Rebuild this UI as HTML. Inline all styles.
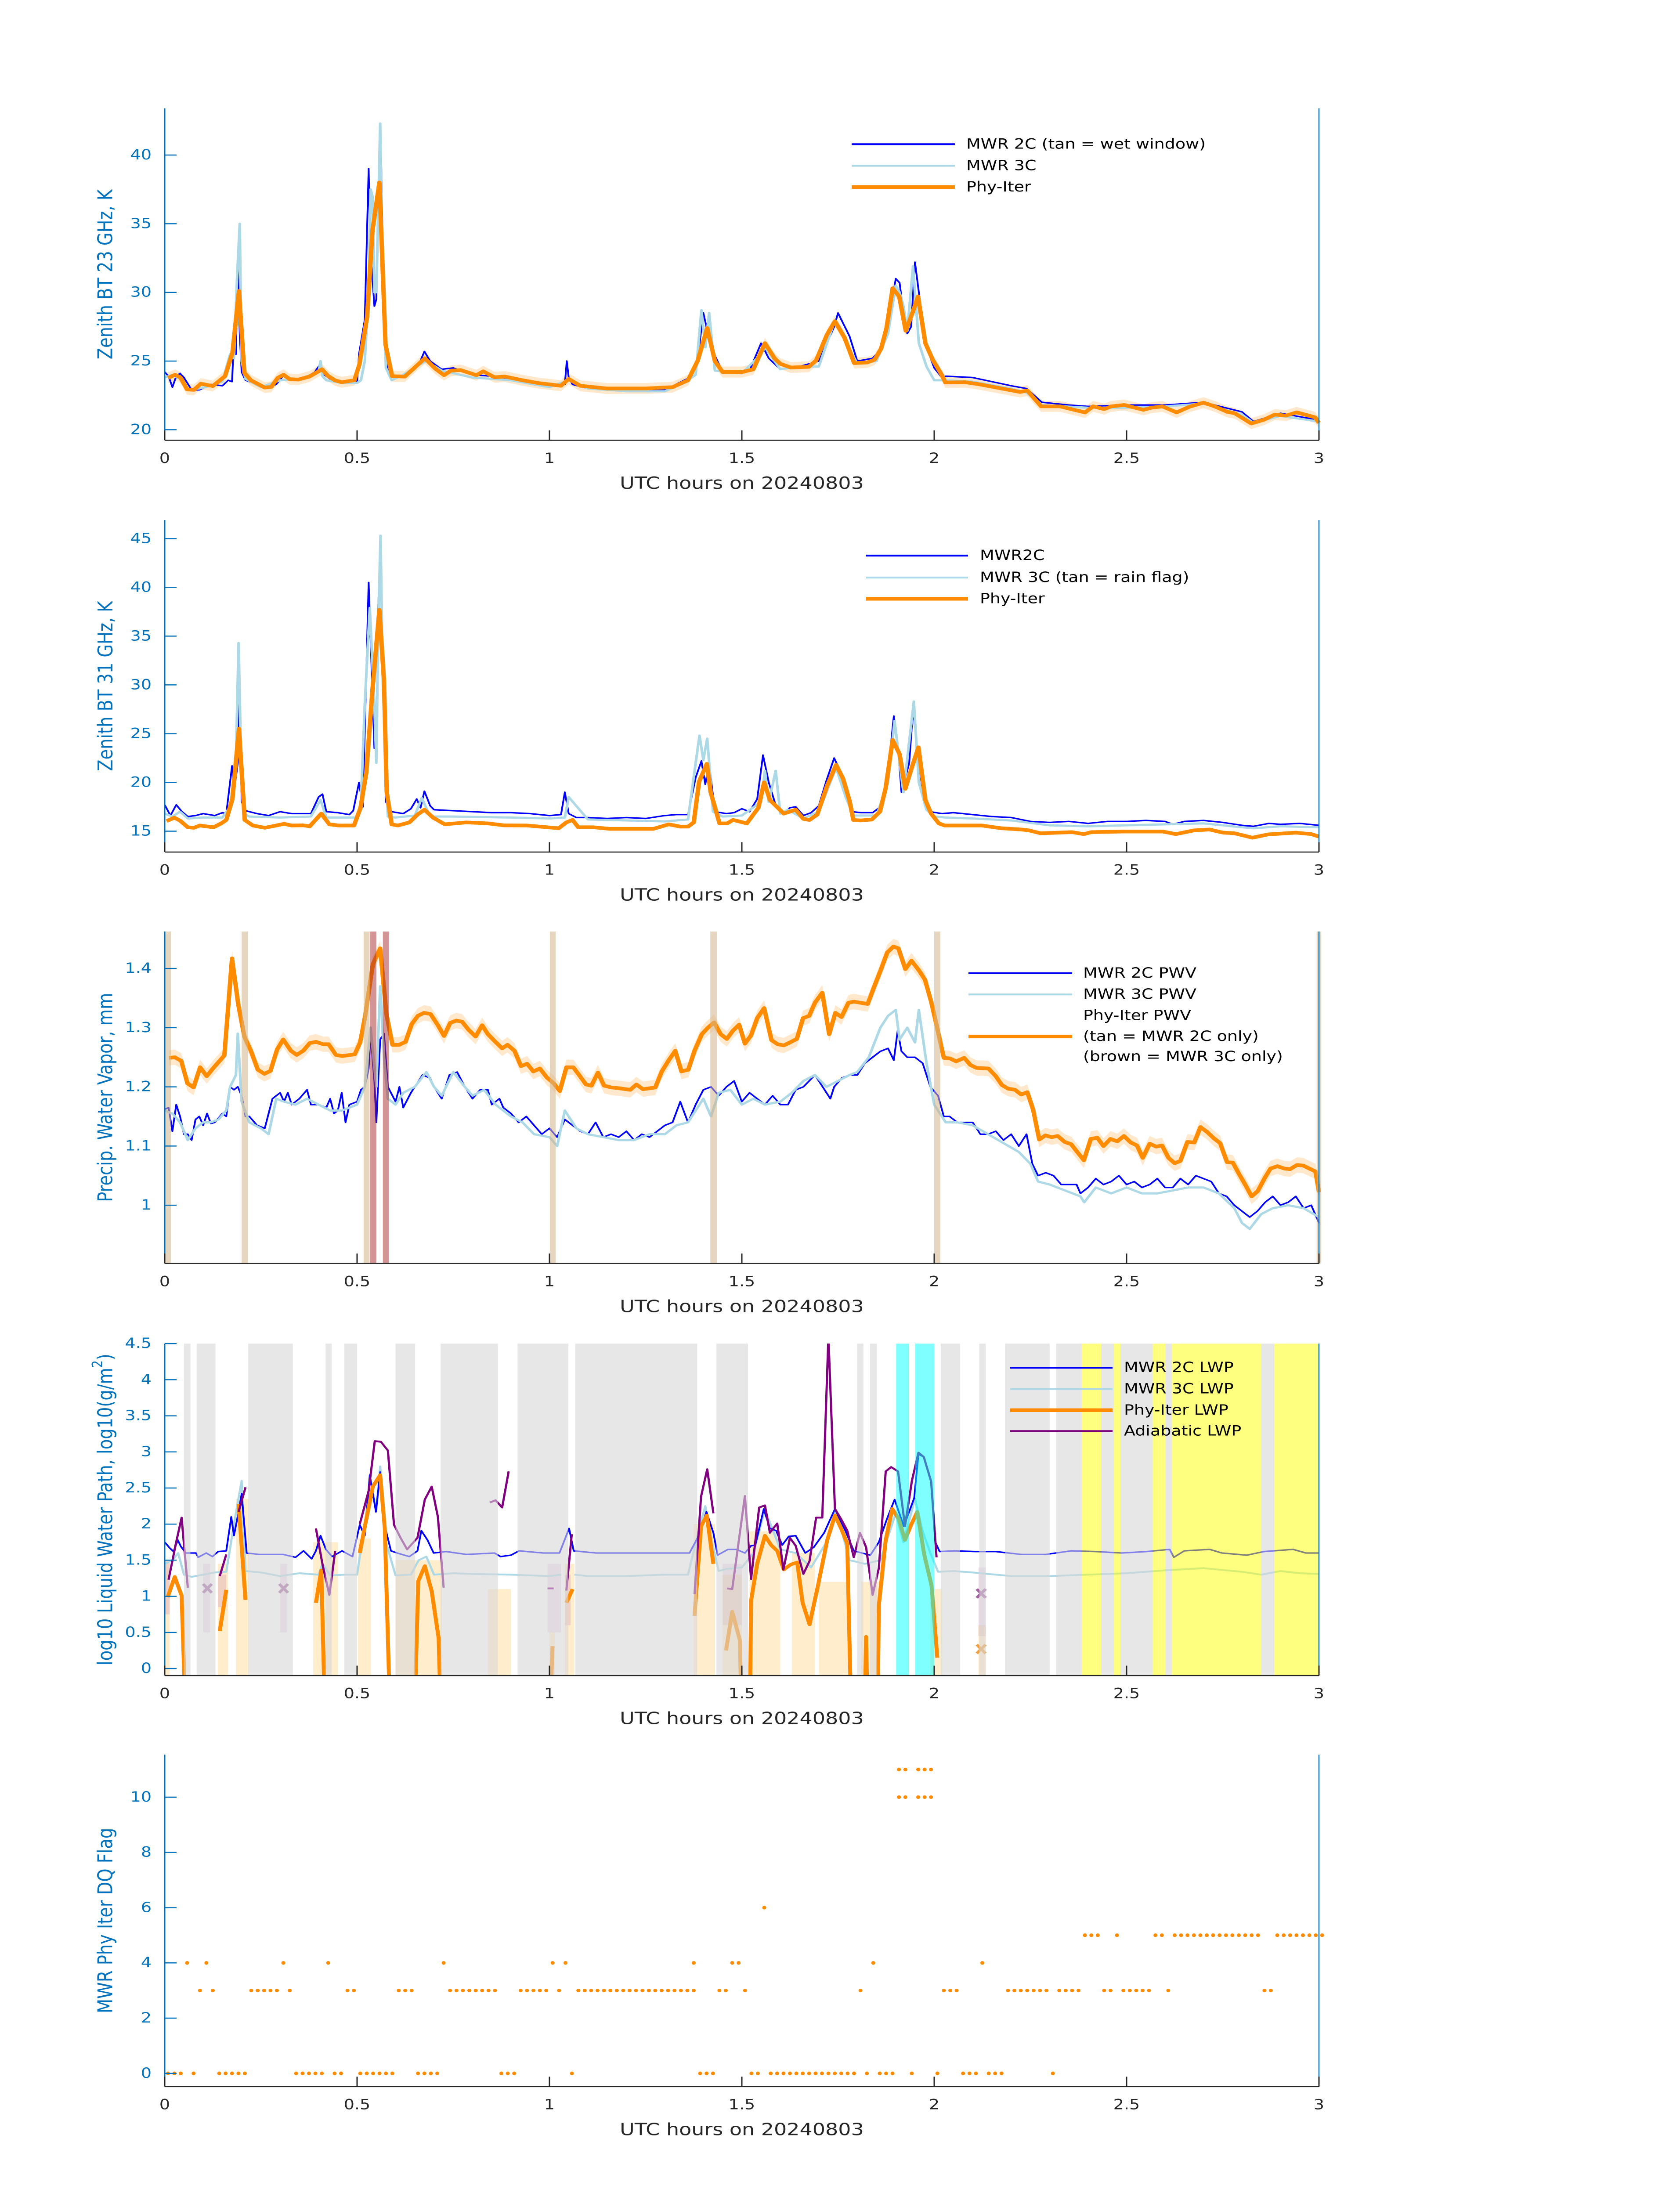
<!DOCTYPE html>
<html><head><meta charset="utf-8"><title>MWR comparison 20240803</title>
<style>
html,body{margin:0;padding:0;background:#fff;width:100%;height:100%;overflow:hidden;}
svg{display:block;position:absolute;left:0;top:0;width:100vw;height:100vh;font-family:"DejaVu Sans","Liberation Sans",sans-serif;}
</style></head>
<body>
<svg id="chart" xmlns="http://www.w3.org/2000/svg" viewBox="0 0 3825 6000" preserveAspectRatio="none"></svg>
<script>
// ---------- Panel 1: 23 GHz BT ----------
const p1OrangeT=[0.009,0.027,0.041,0.058,0.076,0.094,0.125,0.157,0.176,0.193,0.207,0.224,0.26,0.277,0.294,0.309,0.325,0.347,0.376,0.409,0.424,0.442,0.46,0.493,0.506,0.526,0.54,0.558,0.574,0.591,0.624,0.646,0.676,0.704,0.726,0.744,0.769,0.81,0.828,0.857,0.884,0.93,0.97,1.0,1.03,1.05,1.08,1.15,1.25,1.32,1.36,1.385,1.41,1.43,1.45,1.5,1.53,1.56,1.585,1.6,1.627,1.674,1.693,1.721,1.742,1.767,1.792,1.826,1.845,1.862,1.876,1.892,1.909,1.926,1.944,1.958,1.977,1.996,2.02,2.029,2.081,2.119,2.195,2.223,2.242,2.278,2.327,2.356,2.392,2.413,2.442,2.46,2.494,2.544,2.564,2.593,2.63,2.663,2.7,2.729,2.762,2.781,2.824,2.857,2.885,2.914,2.942,2.99,3.0];
const p1OrangeV=[23.78,24.0,23.8,22.94,22.9,23.35,23.18,23.9,25.6,30.1,24.15,23.6,23.07,23.12,23.78,24.0,23.68,23.65,23.87,24.4,23.93,23.6,23.46,23.6,24.75,28.2,34.5,38.0,26.2,23.9,23.87,24.43,25.2,24.43,23.97,24.3,24.34,23.97,24.25,23.82,23.87,23.6,23.4,23.3,23.2,23.7,23.2,23.0,23.0,23.1,23.6,25.0,27.4,25.0,24.2,24.2,24.4,26.3,25.2,24.8,24.53,24.58,25.04,26.9,27.9,26.7,24.85,24.9,25.1,25.9,27.4,30.3,29.7,27.2,28.55,29.7,26.3,25.1,23.97,23.44,23.46,23.3,22.9,22.75,22.85,21.7,21.7,21.5,21.26,21.7,21.5,21.7,21.8,21.45,21.6,21.7,21.26,21.67,21.97,21.7,21.3,21.2,20.45,20.73,21.1,21.03,21.26,20.9,20.5];
const p1BlueT=[0,0.01,0.02,0.03,0.04,0.05,0.07,0.09,0.12,0.15,0.165,0.175,0.18,0.185,0.19,0.195,0.2,0.21,0.23,0.26,0.29,0.31,0.33,0.36,0.39,0.405,0.415,0.43,0.46,0.49,0.5,0.505,0.52,0.53,0.535,0.545,0.55,0.555,0.562,0.57,0.58,0.6,0.63,0.66,0.675,0.69,0.72,0.75,0.8,0.85,0.9,0.95,1.0,1.04,1.045,1.05,1.06,1.1,1.2,1.3,1.35,1.38,1.4,1.42,1.45,1.5,1.52,1.55,1.57,1.6,1.65,1.7,1.74,1.75,1.78,1.8,1.84,1.86,1.88,1.9,1.91,1.92,1.93,1.94,1.95,1.96,1.98,2.0,2.02,2.03,2.1,2.2,2.24,2.28,2.35,2.4,2.5,2.6,2.7,2.8,2.83,2.9,3.0];
const p1BlueV=[24.2,23.9,23.1,23.9,24.1,23.8,22.9,22.9,23.3,23.2,23.6,23.5,26.6,25.5,32.0,27,24.2,23.6,23.4,23.0,23.3,24.0,23.7,23.7,24.2,24.8,24.0,23.7,23.4,23.5,23.4,25.5,28,39.0,33,29.0,29.5,37,40.5,28,24.2,23.8,24.0,24.7,25.7,25.0,24.4,24.5,24.0,23.9,23.7,23.4,23.2,23.3,25.0,23.8,23.3,23.0,22.9,22.9,23.6,24,28.5,26,24.2,24.3,24.3,26.3,25.2,24.4,24.6,25.0,27.5,28.5,26.8,25.0,25.2,25.8,27.5,31.0,30.7,28.5,27.0,27.5,32.2,30,26,24.5,23.8,23.9,23.8,23.2,23.0,22.0,21.8,21.7,21.8,21.8,22.0,21.3,20.6,21.2,20.7];
const p1LbT=[0,0.02,0.04,0.06,0.09,0.12,0.15,0.17,0.18,0.188,0.195,0.2,0.21,0.25,0.3,0.35,0.4,0.405,0.41,0.42,0.46,0.5,0.51,0.52,0.53,0.535,0.54,0.545,0.55,0.555,0.56,0.565,0.575,0.59,0.62,0.66,0.68,0.72,0.8,0.9,1.0,1.05,1.1,1.2,1.3,1.35,1.38,1.395,1.405,1.415,1.43,1.5,1.55,1.56,1.6,1.65,1.7,1.74,1.76,1.8,1.85,1.88,1.9,1.91,1.92,1.93,1.945,1.95,1.96,1.98,2.0,2.03,2.1,2.2,2.24,2.28,2.4,2.5,2.6,2.7,2.8,2.83,2.9,3.0];
const p1LbV=[23.8,24.0,23.7,22.9,23.0,23.2,23.5,25.5,25.2,31,35,25,23.7,23.1,23.6,23.7,24.2,25.0,23.9,23.6,23.4,23.4,23.6,25,30,37.5,37.0,30,30,36,42.3,33,24.5,23.6,24.0,24.7,25.0,24.3,23.8,23.6,23.1,23.6,23.0,22.8,22.8,23.4,24,28.7,26,28.5,24.3,24.1,25.5,26.0,24.4,24.6,24.6,27.8,27.0,24.8,25.0,27,30.5,30,29,27.2,31.9,30,26.3,24.6,23.6,23.6,23.5,23.0,22.7,21.8,21.6,21.6,21.7,21.9,21.1,20.5,21.0,20.6];
const p1Ticks=[20,25,30,35,40];

// ---------- Panel 2: 31 GHz BT ----------
const p2OrangeT=[0.005,0.025,0.04,0.06,0.076,0.091,0.127,0.147,0.16,0.176,0.193,0.208,0.229,0.26,0.29,0.31,0.33,0.36,0.377,0.407,0.428,0.453,0.492,0.509,0.524,0.54,0.558,0.57,0.577,0.59,0.606,0.636,0.657,0.675,0.698,0.728,0.784,0.84,0.881,0.942,1.024,1.044,1.06,1.075,1.115,1.156,1.27,1.31,1.34,1.36,1.375,1.389,1.409,1.419,1.442,1.462,1.477,1.513,1.543,1.558,1.573,1.609,1.64,1.66,1.676,1.696,1.722,1.745,1.763,1.78,1.79,1.808,1.838,1.859,1.874,1.892,1.91,1.925,1.94,1.959,1.977,1.992,2.012,2.027,2.083,2.124,2.175,2.226,2.246,2.277,2.358,2.389,2.409,2.49,2.594,2.628,2.675,2.715,2.751,2.781,2.827,2.868,2.94,2.98,3.0];
const p2OrangeV=[16.04,16.38,16.08,15.4,15.35,15.58,15.4,15.8,16.15,18.3,25.5,16.15,15.58,15.35,15.58,15.75,15.58,15.6,15.5,16.8,15.7,15.58,15.58,17.4,21.0,29.5,37.7,30.4,19.0,15.7,15.58,15.9,16.7,17.2,16.38,15.7,15.9,15.8,15.6,15.58,15.3,15.9,16.15,15.4,15.4,15.24,15.24,15.7,15.47,15.47,15.9,20.1,21.9,19.0,15.8,15.8,16.15,15.8,17.4,20.0,18.2,16.8,17.2,16.26,16.15,16.7,19.7,21.8,20.4,18.1,16.15,16.1,16.2,17.0,19.45,24.35,22.9,19.35,21.3,23.6,18.2,16.8,15.8,15.58,15.58,15.58,15.3,15.17,15.08,14.78,14.9,14.7,14.9,14.96,14.96,14.7,15.08,15.17,14.85,14.78,14.33,14.67,14.85,14.7,14.44];
const p2BlueT=[0,0.015,0.03,0.045,0.06,0.08,0.1,0.13,0.15,0.16,0.175,0.18,0.19,0.195,0.2,0.21,0.24,0.27,0.3,0.33,0.36,0.38,0.4,0.41,0.42,0.45,0.48,0.49,0.505,0.515,0.53,0.545,0.55,0.555,0.56,0.565,0.575,0.59,0.62,0.64,0.655,0.665,0.675,0.69,0.7,0.75,0.8,0.85,0.9,0.95,1.0,1.03,1.04,1.05,1.07,1.1,1.15,1.2,1.25,1.3,1.33,1.36,1.38,1.395,1.405,1.415,1.43,1.46,1.48,1.5,1.52,1.54,1.555,1.57,1.59,1.61,1.625,1.64,1.66,1.68,1.7,1.72,1.74,1.76,1.785,1.81,1.84,1.86,1.88,1.895,1.905,1.915,1.935,1.945,1.96,1.975,1.99,2.02,2.05,2.1,2.15,2.2,2.25,2.3,2.35,2.4,2.45,2.5,2.55,2.6,2.62,2.65,2.7,2.75,2.8,2.83,2.87,2.9,2.95,3.0];
const p2BlueV=[17.7,16.6,17.7,17.0,16.5,16.6,16.8,16.6,16.9,16.8,21.7,19,22,30,18,17.1,16.8,16.6,17.0,16.8,16.8,16.8,18.5,18.8,17.0,16.9,16.7,17.1,20.0,17.5,40.5,23.5,25,38,44,35,18,17.0,16.8,17.3,18.3,17.4,19.1,17.6,17.2,17.1,17.0,16.9,16.9,16.8,16.6,16.7,19.0,16.8,16.4,16.4,16.3,16.4,16.3,16.6,16.7,16.7,20.5,22.2,19.8,22,17.0,16.8,16.9,17.3,17.0,18.3,22.8,20,17.4,16.9,17.4,17.5,16.6,16.9,17.6,20.2,22.5,20.8,17.0,16.9,16.9,17.5,21.0,26.8,24,19,22,27.5,22,17.7,17.0,16.8,16.9,16.7,16.5,16.4,16.0,15.9,16.0,15.8,16.0,16.0,16.1,16.0,15.7,16.0,16.1,15.9,15.6,15.5,15.8,15.7,15.8,15.6];
const p2LbT=[0,0.02,0.04,0.06,0.1,0.15,0.17,0.185,0.192,0.197,0.205,0.22,0.3,0.38,0.405,0.42,0.5,0.51,0.52,0.533,0.545,0.55,0.555,0.561,0.567,0.58,0.6,0.65,0.668,0.69,0.75,0.9,1.0,1.04,1.05,1.1,1.3,1.36,1.38,1.39,1.4,1.41,1.425,1.45,1.5,1.55,1.56,1.57,1.588,1.6,1.62,1.66,1.7,1.745,1.77,1.79,1.85,1.88,1.897,1.91,1.92,1.947,1.96,1.98,2.0,2.03,2.1,2.2,2.3,2.4,2.5,2.6,2.7,2.8,2.83,2.9,3.0];
const p2LbV=[16.8,16.5,17.0,16.3,16.4,16.4,17.5,22,34.3,25,16.8,16.5,16.4,16.5,18.2,16.4,16.4,18,28,37.9,28,22,36,45.3,30,16.5,16.4,16.6,18.4,16.5,16.5,16.4,16.3,16.4,18.5,16.2,16.0,16.2,22,24.8,22.3,24.5,17,16.5,16.6,18,21.2,18,21.2,16.8,17.2,16.3,17.0,21.5,18.5,16.6,16.6,20,26.3,22,19,28.3,20,17.2,16.5,16.4,16.3,16.1,15.6,15.5,15.6,15.7,15.8,15.4,15.3,15.5,15.4];
const p2Ticks=[15,20,25,30,35,40,45];

// ---------- Panel 3: PWV ----------
const p3OrangeT=[0.011,0.026,0.043,0.059,0.075,0.092,0.109,0.128,0.155,0.175,0.191,0.207,0.224,0.242,0.259,0.275,0.292,0.308,0.328,0.343,0.36,0.377,0.393,0.412,0.426,0.445,0.461,0.494,0.508,0.521,0.541,0.56,0.576,0.592,0.609,0.626,0.642,0.658,0.674,0.691,0.71,0.726,0.742,0.758,0.773,0.789,0.808,0.825,0.84,0.858,0.877,0.891,0.909,0.926,0.942,0.958,0.975,0.993,1.011,1.027,1.044,1.062,1.077,1.095,1.109,1.126,1.142,1.161,1.177,1.21,1.226,1.243,1.275,1.292,1.31,1.327,1.343,1.361,1.377,1.396,1.412,1.428,1.445,1.461,1.477,1.493,1.508,1.524,1.54,1.558,1.577,1.593,1.609,1.625,1.643,1.659,1.675,1.69,1.709,1.727,1.743,1.759,1.777,1.791,1.827,1.844,1.862,1.878,1.894,1.907,1.925,1.941,1.96,1.976,1.992,2.009,2.025,2.041,2.057,2.078,2.094,2.11,2.141,2.16,2.176,2.192,2.21,2.226,2.242,2.257,2.273,2.289,2.305,2.321,2.339,2.356,2.373,2.389,2.407,2.424,2.44,2.458,2.476,2.493,2.511,2.527,2.542,2.56,2.577,2.592,2.609,2.625,2.64,2.658,2.676,2.692,2.709,2.727,2.743,2.761,2.776,2.793,2.809,2.825,2.841,2.859,2.874,2.892,2.91,2.925,2.943,2.959,2.975,2.991,3.0];
const p3OrangeV=[1.249,1.25,1.244,1.206,1.199,1.233,1.218,1.233,1.253,1.417,1.34,1.285,1.261,1.229,1.222,1.227,1.263,1.28,1.261,1.254,1.261,1.274,1.276,1.272,1.272,1.254,1.252,1.255,1.275,1.32,1.407,1.434,1.324,1.271,1.271,1.276,1.306,1.32,1.325,1.323,1.304,1.286,1.308,1.312,1.31,1.297,1.285,1.304,1.289,1.277,1.265,1.271,1.261,1.235,1.239,1.226,1.231,1.216,1.206,1.193,1.233,1.233,1.22,1.204,1.202,1.224,1.202,1.199,1.198,1.195,1.204,1.196,1.199,1.226,1.245,1.261,1.226,1.229,1.261,1.289,1.3,1.309,1.289,1.281,1.295,1.305,1.273,1.287,1.316,1.333,1.279,1.272,1.27,1.275,1.281,1.316,1.32,1.342,1.359,1.289,1.325,1.318,1.342,1.344,1.34,1.369,1.399,1.427,1.437,1.434,1.399,1.413,1.397,1.381,1.344,1.296,1.249,1.248,1.243,1.249,1.237,1.232,1.231,1.218,1.203,1.197,1.195,1.187,1.191,1.162,1.111,1.118,1.115,1.117,1.107,1.103,1.089,1.076,1.112,1.114,1.1,1.112,1.108,1.117,1.106,1.101,1.08,1.104,1.099,1.101,1.08,1.071,1.075,1.107,1.106,1.132,1.124,1.113,1.105,1.073,1.072,1.052,1.034,1.015,1.024,1.046,1.062,1.066,1.062,1.061,1.068,1.067,1.062,1.057,1.022];
const p3BlueT=[0,0.01,0.02,0.03,0.04,0.05,0.06,0.07,0.08,0.09,0.1,0.11,0.12,0.13,0.15,0.16,0.17,0.18,0.19,0.2,0.21,0.22,0.24,0.26,0.28,0.3,0.31,0.32,0.33,0.35,0.37,0.38,0.4,0.42,0.43,0.44,0.45,0.46,0.47,0.48,0.5,0.51,0.52,0.53,0.535,0.545,0.55,0.56,0.57,0.58,0.6,0.61,0.62,0.64,0.66,0.67,0.69,0.7,0.72,0.74,0.76,0.78,0.8,0.82,0.84,0.85,0.87,0.88,0.9,0.92,0.94,0.96,0.98,1.0,1.02,1.04,1.06,1.08,1.1,1.12,1.14,1.16,1.18,1.2,1.22,1.24,1.26,1.28,1.3,1.32,1.34,1.36,1.38,1.4,1.42,1.44,1.46,1.48,1.5,1.52,1.54,1.56,1.58,1.6,1.62,1.64,1.66,1.69,1.71,1.73,1.74,1.76,1.78,1.8,1.82,1.84,1.86,1.88,1.895,1.905,1.915,1.93,1.95,1.97,1.99,2.01,2.025,2.04,2.06,2.08,2.1,2.12,2.14,2.16,2.18,2.2,2.22,2.24,2.255,2.27,2.29,2.31,2.33,2.35,2.37,2.38,2.4,2.42,2.44,2.46,2.48,2.5,2.52,2.54,2.56,2.58,2.6,2.62,2.64,2.66,2.68,2.7,2.72,2.74,2.76,2.78,2.8,2.82,2.84,2.86,2.88,2.9,2.92,2.94,2.96,2.98,3.0];
const p3BlueV=[1.162,1.165,1.125,1.17,1.15,1.12,1.12,1.11,1.145,1.15,1.135,1.155,1.138,1.14,1.155,1.15,1.2,1.195,1.2,1.185,1.15,1.15,1.135,1.13,1.18,1.19,1.175,1.19,1.17,1.18,1.195,1.17,1.17,1.165,1.18,1.155,1.16,1.19,1.14,1.17,1.175,1.195,1.2,1.23,1.29,1.21,1.14,1.28,1.29,1.2,1.175,1.2,1.165,1.19,1.21,1.22,1.215,1.2,1.18,1.22,1.225,1.2,1.18,1.195,1.195,1.17,1.18,1.165,1.155,1.14,1.15,1.135,1.12,1.13,1.115,1.145,1.135,1.125,1.12,1.14,1.115,1.12,1.115,1.125,1.11,1.12,1.115,1.125,1.135,1.14,1.175,1.14,1.17,1.195,1.2,1.185,1.2,1.21,1.175,1.19,1.18,1.17,1.185,1.17,1.17,1.195,1.2,1.22,1.2,1.18,1.2,1.215,1.22,1.22,1.24,1.25,1.26,1.265,1.245,1.295,1.26,1.25,1.25,1.24,1.2,1.185,1.15,1.15,1.14,1.14,1.14,1.12,1.12,1.125,1.11,1.12,1.1,1.12,1.07,1.05,1.055,1.05,1.035,1.035,1.035,1.02,1.03,1.045,1.035,1.04,1.05,1.035,1.04,1.03,1.035,1.045,1.03,1.03,1.045,1.035,1.05,1.045,1.04,1.02,1.015,1.0,0.99,0.98,0.99,1.005,1.015,1.0,1.005,1.015,0.995,1.0,0.97];
const p3LbT=[0,0.02,0.04,0.06,0.08,0.1,0.12,0.14,0.16,0.17,0.185,0.19,0.2,0.22,0.25,0.27,0.29,0.31,0.34,0.37,0.4,0.43,0.46,0.48,0.5,0.52,0.535,0.55,0.56,0.57,0.58,0.6,0.62,0.65,0.68,0.7,0.72,0.75,0.78,0.8,0.83,0.86,0.9,0.93,0.96,1.0,1.02,1.04,1.07,1.1,1.14,1.18,1.22,1.26,1.3,1.33,1.36,1.4,1.42,1.44,1.47,1.5,1.53,1.56,1.6,1.63,1.66,1.69,1.72,1.75,1.78,1.8,1.83,1.86,1.88,1.9,1.91,1.93,1.95,1.96,1.98,2.0,2.03,2.06,2.1,2.14,2.18,2.22,2.25,2.27,2.3,2.34,2.38,2.39,2.42,2.46,2.5,2.54,2.58,2.62,2.66,2.7,2.74,2.78,2.8,2.82,2.85,2.88,2.92,2.96,3.0];
const p3LbV=[1.16,1.155,1.14,1.11,1.13,1.14,1.14,1.145,1.16,1.2,1.22,1.29,1.175,1.14,1.13,1.12,1.18,1.175,1.17,1.18,1.17,1.16,1.16,1.165,1.17,1.2,1.3,1.2,1.37,1.25,1.18,1.17,1.19,1.2,1.225,1.2,1.185,1.225,1.2,1.185,1.195,1.17,1.15,1.14,1.12,1.115,1.1,1.16,1.13,1.12,1.115,1.11,1.11,1.12,1.12,1.135,1.14,1.18,1.15,1.19,1.195,1.17,1.18,1.17,1.175,1.19,1.21,1.22,1.2,1.21,1.22,1.225,1.25,1.3,1.32,1.33,1.28,1.3,1.275,1.33,1.24,1.17,1.14,1.14,1.135,1.12,1.105,1.09,1.07,1.04,1.035,1.025,1.015,1.005,1.03,1.02,1.03,1.02,1.02,1.025,1.03,1.03,1.02,0.995,0.97,0.96,0.985,0.995,1.0,0.995,0.98];
const p3TanBands=[[0.0,0.016],[0.2,0.216],[0.517,0.532],[1.001,1.016],[1.418,1.435],[2.0,2.016],[2.994,3.006]];
const p3BrownBands=[[0.533,0.55],[0.567,0.583]];
const p3Ticks=[1,1.1,1.2,1.3,1.4];

// ---------- Panel 4: LWP ----------
const p4BlueT=[0,0.013,0.023,0.034,0.042,0.055,0.081,0.087,0.108,0.124,0.139,0.16,0.173,0.18,0.192,0.2,0.213,0.245,0.308,0.34,0.361,0.382,0.393,0.405,0.419,0.435,0.461,0.488,0.507,0.52,0.533,0.549,0.56,0.575,0.588,0.604,0.636,0.657,0.667,0.683,0.699,0.731,0.784,0.857,0.873,0.9,0.921,0.984,1.026,1.051,1.063,1.121,1.174,1.28,1.364,1.385,1.408,1.426,1.437,1.464,1.486,1.508,1.524,1.535,1.557,1.573,1.589,1.605,1.622,1.64,1.665,1.687,1.714,1.742,1.769,1.791,1.812,1.834,1.856,1.877,1.897,1.921,1.948,1.959,1.973,1.992,2.003,2.014,2.052,2.106,2.16,2.226,2.29,2.356,2.42,2.487,2.552,2.612,2.623,2.65,2.716,2.748,2.813,2.857,2.933,2.966,3.0];
const p4BlueV=[1.75,1.67,1.62,1.78,1.69,1.6,1.6,1.54,1.6,1.55,1.62,1.63,2.1,1.84,2.17,2.42,1.6,1.58,1.58,1.54,1.63,1.52,1.63,1.84,1.65,1.55,1.63,1.55,1.99,1.84,2.68,2.17,2.72,1.91,1.63,1.6,1.55,1.63,1.91,1.78,1.6,1.62,1.58,1.6,1.55,1.57,1.63,1.6,1.6,1.94,1.63,1.6,1.6,1.6,1.6,1.81,2.17,1.88,1.57,1.65,1.65,1.6,1.7,1.71,2.21,1.94,1.91,1.71,1.83,1.84,1.6,1.68,1.88,2.21,1.91,1.63,1.6,1.57,1.75,2.07,2.34,1.97,2.36,2.97,2.93,2.59,1.75,1.62,1.63,1.62,1.62,1.58,1.58,1.63,1.62,1.6,1.62,1.65,1.54,1.63,1.65,1.6,1.57,1.62,1.65,1.6,1.6];
const p4LbT=[0,0.02,0.035,0.05,0.07,0.1,0.13,0.16,0.18,0.2,0.21,0.25,0.3,0.35,0.4,0.41,0.43,0.47,0.5,0.52,0.535,0.55,0.56,0.575,0.6,0.64,0.66,0.68,0.7,0.75,0.8,0.9,1.0,1.03,1.06,1.065,1.1,1.2,1.3,1.36,1.385,1.405,1.42,1.44,1.46,1.5,1.53,1.56,1.6,1.64,1.68,1.72,1.745,1.78,1.82,1.86,1.9,1.92,1.95,1.97,1.99,2.01,2.05,2.1,2.2,2.3,2.4,2.5,2.6,2.7,2.72,2.8,2.85,2.9,2.95,3.0];
const p4LbV=[1.45,1.5,1.6,1.3,1.27,1.3,1.33,1.34,2.0,2.6,1.35,1.33,1.28,1.32,1.3,1.45,1.29,1.3,1.3,2.0,2.6,2.2,2.8,1.75,1.29,1.3,1.5,1.55,1.3,1.32,1.31,1.3,1.28,1.3,null,1.3,1.28,1.28,1.3,1.3,1.85,2.25,1.8,1.35,1.38,1.4,1.6,2.2,1.65,1.6,1.4,1.75,2.2,1.5,1.45,1.5,2.15,1.75,2.35,1.9,1.6,1.34,1.35,1.33,1.28,1.28,1.3,1.32,1.36,1.39,1.38,1.34,1.3,1.35,1.32,1.31];
const p4OrangeT=[0.008,0.026,0.044,0.051,0.1,0.143,0.16,0.18,0.192,0.21,0.3,0.393,0.407,0.414,0.45,0.507,0.52,0.541,0.56,0.572,0.583,0.6,0.652,0.659,0.676,0.694,0.712,0.715,0.8,1.005,1.008,1.02,1.044,1.06,1.2,1.377,1.394,1.409,1.426,1.44,1.459,1.475,1.495,1.497,1.51,1.522,1.524,1.54,1.56,1.576,1.592,1.609,1.627,1.644,1.658,1.676,1.698,1.722,1.742,1.758,1.774,1.782,1.8,1.821,1.823,1.825,1.84,1.854,1.856,1.874,1.891,1.908,1.924,1.94,1.956,1.974,1.993,2.008];
const p4OrangeV=[0.99,1.27,1.01,-0.13,null,0.52,1.09,null,2.28,0.95,null,0.91,1.36,-0.13,null,1.6,1.96,2.52,2.68,1.94,-0.13,null,-0.13,1.21,1.42,1.07,0.42,-0.13,null,-0.13,0.31,null,0.91,1.1,null,0.73,1.97,2.12,1.45,null,0.25,0.79,0.39,-0.13,null,-0.13,0.94,1.45,1.84,1.71,1.63,1.37,1.44,1.47,0.91,0.61,1.15,1.78,2.12,1.94,1.73,-0.13,null,-0.13,0.44,-0.13,null,-0.13,0.87,1.78,2.21,2.07,1.78,1.99,2.17,1.58,1.15,0.15];
const p4PurpleT=[0.01,0.029,0.044,0.06,0.1,0.143,0.16,0.18,0.192,0.21,0.3,0.393,0.411,0.428,0.443,0.47,0.507,0.53,0.546,0.562,0.58,0.596,0.613,0.63,0.657,0.676,0.694,0.71,0.725,0.8,0.845,0.86,0.877,0.894,0.95,0.995,1.011,1.03,1.044,1.058,1.2,1.377,1.394,1.41,1.426,1.44,1.462,1.475,1.508,1.524,1.545,1.56,1.573,1.592,1.608,1.625,1.64,1.66,1.676,1.693,1.709,1.725,1.742,1.758,1.774,1.791,1.807,1.823,1.84,1.856,1.874,1.888,1.906,1.924,1.942,1.959,1.973,1.992,2.006];
const p4PurpleV=[1.23,1.73,2.09,1.12,null,1.28,1.58,null,2.17,2.51,null,1.94,1.42,1.02,1.63,null,2.0,2.46,3.15,3.14,3.02,1.99,1.81,1.65,1.81,2.34,2.52,2.1,1.12,null,2.3,2.33,2.23,2.73,null,1.11,1.11,null,1.08,1.86,null,1.03,2.38,2.76,2.15,null,1.11,1.10,2.39,1.24,2.23,2.26,1.88,2.01,1.37,1.81,1.7,1.31,1.49,2.09,2.09,4.6,2.21,2.07,1.91,1.54,1.88,1.68,1.02,1.39,2.73,2.79,2.73,1.97,2.6,2.99,2.93,2.59,1.54];
const p4GrayBands=[[0.05,0.067],[0.083,0.132],[0.217,0.333],[0.418,0.434],[0.467,0.5],[0.6,0.651],[0.717,0.866],[0.917,1.049],[1.067,1.384],[1.434,1.516],[1.8,1.816],[1.833,1.851],[2.017,2.067],[2.117,2.134],[2.184,2.3],[2.317,2.384],[2.434,2.467],[2.484,2.568],[2.601,2.618],[2.85,2.884]];
const p4YellowBands=[[2.384,2.434],[2.467,2.484],[2.568,2.601],[2.618,2.85],[2.884,3.0]];
const p4CyanBands=[[1.901,1.934],[1.951,2.0]];
const p4PeachRects=[[0.0,0.013,-0.1,1.5],[0.138,0.165,-0.1,1.45],[0.185,0.218,-0.1,2.35],[0.386,0.45,-0.1,1.75],[0.502,0.536,-0.1,1.8],[0.60,0.72,-0.1,1.5],[0.84,0.9,-0.1,1.1],[1.0,1.015,-0.1,0.5],[1.04,1.065,-0.1,1.45],[1.375,1.43,-0.1,2.0],[1.45,1.5,-0.1,1.3],[1.52,1.6,-0.1,1.9],[1.63,1.69,-0.1,1.6],[1.7,1.78,-0.1,1.2],[1.81,1.86,-0.1,1.2],[1.99,2.02,-0.1,1.1],[2.115,2.134,-0.1,0.6]];
const p4MauveRects=[[0.0,0.013,0.75,1.5],[0.1,0.118,0.5,1.45],[0.138,0.16,0.85,1.3],[0.3,0.318,0.5,1.45],[0.995,1.03,0.5,1.45],[1.04,1.055,0.6,1.3],[1.45,1.5,0.6,1.45],[2.115,2.134,0.45,1.4]];
const p4PurpleX=[[0.111,1.11],[0.309,1.11],[2.122,1.04]];
const p4OrangeX=[[2.122,0.27]];
const p4Ticks=[0,0.5,1,1.5,2,2.5,3,3.5,4,4.5];

// ---------- Panel 5: DQ flag (minute index of sample) ----------
const dq0Minutes=[0,1,2,4,8,9,10,11,12,20,21,22,23,24,26,27,30,31,32,33,34,35,39,40,41,42,52,53,54,63,83,84,85,91,92,94,95,96,97,98,99,100,101,102,103,104,105,106,107,109,111,112,113,116,120,124,125,126,128,129,130,138];
const dq3Minutes=[5,7,13,14,15,16,17,19,28,29,36,37,38,44,45,46,47,48,49,50,51,55,56,57,58,59,61,64,65,66,67,68,69,70,71,72,73,74,75,76,77,78,79,80,81,82,86,87,90,108,121,122,123,131,132,133,134,135,136,137,139,140,141,142,146,147,149,150,151,152,153,156,171,172];
const dq4Minutes=[3,6,18,25,43,60,62,82,88,89,110,127];
const dq5Minutes=[143,144,145,148,154,155,157,158,159,160,161,162,163,164,165,166,167,168,169,170,173,174,175,176,177,178,179,180];
const dq6Minutes=[93];
const dq10Minutes=[114,115,117,118,119];
const dq11Minutes=[114,115,117,118,119];
const p5Ticks=[0,2,4,6,8,10];

const xTicks=[0,0.5,1,1.5,2,2.5,3];
const xTickLabels=['0','0.5','1','1.5','2','2.5','3'];

// ---------- layout ----------
const NS='http://www.w3.org/2000/svg';
const svg=document.getElementById('chart');
const L=375,R=3003,H=907;
const P=[{top:296,ymin:19.23,ymax:43.4},{top:1421,ymin:12.86,ymax:46.9},{top:2545,ymin:0.9017,ymax:1.4625},{top:3671,ymin:-0.097,ymax:4.5},{top:4794,ymin:-0.477,ymax:11.54}];
function X(t){return L+t/3*(R-L);}
function Y(p,v){return P[p].top+(P[p].ymax-v)/(P[p].ymax-P[p].ymin)*H;}
function mk(tag,attrs,parent){const e=document.createElementNS(NS,tag);for(const k in attrs)e.setAttribute(k,attrs[k]);(parent||svg).appendChild(e);return e;}
function pathD(p,ts,vs){let d='',pen=false;for(let i=0;i<ts.length;i++){const v=vs[i];if(v===null||v===undefined){pen=false;continue;}d+=(pen?'L':'M')+X(ts[i]).toFixed(1)+','+Y(p,v).toFixed(1);pen=true;}return d;}
function bandD(p,ts,vs,w){let up='',dn=[];for(let i=0;i<ts.length;i++){up+=(i?'L':'M')+X(ts[i]).toFixed(1)+','+Y(p,vs[i]+w).toFixed(1);dn.push('L'+X(ts[i]).toFixed(1)+','+Y(p,vs[i]-w).toFixed(1));}return up+dn.reverse().join('')+'Z';}

const defs=mk('defs',{});
for(let p=0;p<5;p++){const cp=mk('clipPath',{id:'clip'+p},defs);mk('rect',{x:L,y:P[p].top,width:R-L+6,height:H},cp);}

function axes(p,ticks,ylabel,name){
  const g=mk('g',{});
  
  
  const bot=P[p].top+H;
  const yl=mk('line',{x1:L,y1:P[p].top,x2:L,y2:bot,stroke:'#0072BD','stroke-width':3},g);
  
  
  const rl=mk('line',{x1:R,y1:P[p].top,x2:R,y2:bot,stroke:'#0072BD','stroke-width':2.5},g);
  
  
  const xl=mk('line',{x1:L,y1:bot,x2:R,y2:bot,stroke:'#262626','stroke-width':3},g);
  
  
  ticks.forEach(v=>{const y=Y(p,v);
    const t=mk('line',{x1:L,y1:y,x2:L+27,y2:y,stroke:'#0072BD','stroke-width':3},g);
    
    
    const tx=mk('text',{x:345,y:y,'text-anchor':'end','dominant-baseline':'central','font-size':38,fill:'#0072BD'},g);
    
    
    tx.textContent=String(v);});
  xTicks.forEach((v,i)=>{const x=X(v);
    const t=mk('line',{x1:x,y1:bot,x2:x,y2:bot-27,stroke:'#262626','stroke-width':3},g);
    
    
    const tx=mk('text',{x:x,y:bot+50,'text-anchor':'middle','dominant-baseline':'central','font-size':38,fill:'#262626'},g);
    
    
    tx.textContent=xTickLabels[i];});
  const xt=mk('text',{x:(L+R)/2,y:bot+117,'text-anchor':'middle','dominant-baseline':'central','font-size':46,fill:'#262626'},g);
  
  
  xt.textContent='UTC hours on 20240803';
  const cy=P[p].top+H/2;
  const yt=mk('text',{x:240,y:cy,'text-anchor':'middle','dominant-baseline':'central','font-size':46,fill:'#0072BD',transform:'rotate(-90 240 '+cy+')'},g);
  
  
  if(Array.isArray(ylabel)){yt.appendChild(document.createTextNode(ylabel[0]));const s=mk('tspan',{'baseline-shift':'super','font-size':32},yt);s.textContent=ylabel[1];yt.appendChild(document.createTextNode(ylabel[2]));}
  else yt.textContent=ylabel;
}
function series(p,ts,vs,color,w,name,parent){
  const e=mk('path',{d:pathD(p,ts,vs),fill:'none',stroke:color,'stroke-width':w,'stroke-linejoin':'round','stroke-linecap':'butt'},parent);
  
  
  return e;
}
function band(p,ts,vs,w,name,parent){
  const e=mk('path',{d:bandD(p,ts,vs,w),fill:'rgba(255,140,0,0.2)',stroke:'none'},parent);
  
  
}
function vband(p,t0,t1,fill,name,parent,lo,hi){
  const y0=lo===undefined?P[p].top:Y(p,hi),y1=lo===undefined?P[p].top+H:Y(p,lo);
  const e=mk('rect',{x:X(t0),y:y0,width:X(t1)-X(t0),height:y1-y0,fill:fill},parent);
  
  
}
function legend(rows,x1,x2,tx,name){
  const g=mk('g',{});
  
  
  rows.forEach(r=>{
    if(r.color){const l=mk('line',{x1:x1,y1:r.ly,x2:x2,y2:r.ly,stroke:r.color,'stroke-width':r.w},g);
      
      }
    const t=mk('text',{x:tx,y:r.y,'dominant-baseline':'central','font-size':38,fill:'#000'},g);
    
    
    t.textContent=r.text;});
}

// ---- Panel 1 ----
let g=mk('g',{'clip-path':'url(#clip0)'});


band(0,p1OrangeT,p1OrangeV,0.4,'bt23-phyiter-uncertainty',g);
series(0,p1BlueT,p1BlueV,'#0000FF',4,'bt23-mwr2c-line',g);
series(0,p1LbT,p1LbV,'#ADD8E6',6,'bt23-mwr3c-line',g);
series(0,p1OrangeT,p1OrangeV,'#FF8C00',10,'bt23-phyiter-line',g);
axes(0,p1Ticks,'Zenith BT 23 GHz, K','bt23');
legend([{text:'MWR 2C (tan = wet window)',y:394,ly:394,color:'#0000FF',w:5},{text:'MWR 3C',y:453,ly:453,color:'#ADD8E6',w:5},{text:'Phy-Iter',y:511,ly:511,color:'#FF8C00',w:10}],1939,2174,2200,'bt23-legend');

// ---- Panel 2 ----
g=mk('g',{'clip-path':'url(#clip1)'});


band(1,p2OrangeT,p2OrangeV,0.15,'bt31-phyiter-uncertainty',g);
series(1,p2BlueT,p2BlueV,'#0000FF',4,'bt31-mwr2c-line',g);
series(1,p2LbT,p2LbV,'#ADD8E6',6,'bt31-mwr3c-line',g);
series(1,p2OrangeT,p2OrangeV,'#FF8C00',10,'bt31-phyiter-line',g);
axes(1,p2Ticks,'Zenith BT 31 GHz, K','bt31');
legend([{text:'MWR2C',y:1518,ly:1518,color:'#0000FF',w:5},{text:'MWR 3C (tan = rain flag)',y:1578,ly:1578,color:'#ADD8E6',w:5},{text:'Phy-Iter',y:1636,ly:1636,color:'#FF8C00',w:10}],1972,2204,2231,'bt31-legend');

// ---- Panel 3 ----
g=mk('g',{'clip-path':'url(#clip2)'});


band(2,p3OrangeT,p3OrangeV,0.013,'pwv-phyiter-uncertainty',g);
series(2,p3BlueT,p3BlueV,'#0000FF',4,'pwv-mwr2c-line',g);
series(2,p3LbT,p3LbV,'#ADD8E6',6,'pwv-mwr3c-line',g);
series(2,p3OrangeT,p3OrangeV,'#FF8C00',10,'pwv-phyiter-line',g);
p3TanBands.forEach(b=>vband(2,b[0],b[1],'rgba(210,180,140,0.55)','pwv-tan-band',g));
p3BrownBands.forEach(b=>vband(2,b[0],b[1],'rgba(165,42,42,0.5)','pwv-brown-band',g));
axes(2,p3Ticks,'Precip. Water Vapor, mm','pwv');
legend([{text:'MWR 2C PWV',y:2659,ly:2659,color:'#0000FF',w:5},{text:'MWR 3C PWV',y:2717,ly:2717,color:'#ADD8E6',w:5},{text:'Phy-Iter PWV',y:2775,ly:2775},{text:'(tan = MWR 2C only)',y:2832,ly:2832,color:'#FF8C00',w:10},{text:'(brown = MWR 3C only)',y:2887,ly:2887}],2205,2441,2466,'pwv-legend');

// ---- Panel 4 ----
g=mk('g',{'clip-path':'url(#clip3)'});


p4PeachRects.forEach(r=>vband(3,r[0],r[1],'rgba(255,165,0,0.2)','lwp-phyiter-uncertainty',g,r[2],r[3]));
p4MauveRects.forEach(r=>vband(3,r[0],r[1],'rgba(128,0,128,0.12)','lwp-adiabatic-uncertainty',g,r[2],r[3]));
series(3,p4LbT,p4LbV,'#ADD8E6',5,'lwp-mwr3c-line',g);
series(3,p4BlueT,p4BlueV,'#0000FF',4,'lwp-mwr2c-line',g);
series(3,p4OrangeT,p4OrangeV,'#FF8C00',9,'lwp-phyiter-line',g);
series(3,p4PurpleT,p4PurpleV,'#800080',5,'lwp-adiabatic-line',g);
p4PurpleX.concat(p4OrangeX).forEach((m,i)=>{const x=X(m[0]),y=Y(3,m[1]);
  const e=mk('path',{d:'M'+(x-10)+','+(y-12)+'L'+(x+10)+','+(y+12)+'M'+(x+10)+','+(y-12)+'L'+(x-10)+','+(y+12),stroke:i<p4PurpleX.length?'#A060A0':'#F0A040','stroke-width':7,fill:'none'},g);
  
  });
p4GrayBands.forEach(b=>vband(3,b[0],b[1],'rgba(215,215,215,0.6)','lwp-gray-band',g));
p4YellowBands.forEach(b=>vband(3,b[0],b[1],'rgba(255,255,0,0.5)','lwp-yellow-band',g));
p4CyanBands.forEach(b=>vband(3,b[0],b[1],'rgba(0,255,255,0.5)','lwp-cyan-band',g));
axes(3,p4Ticks,['log10 Liquid Water Path, log10(g/m','2',')'],'lwp');
legend([{text:'MWR 2C LWP',y:3737,ly:3737,color:'#0000FF',w:5},{text:'MWR 3C LWP',y:3795,ly:3795,color:'#ADD8E6',w:5},{text:'Phy-Iter LWP',y:3853,ly:3853,color:'#FF8C00',w:10},{text:'Adiabatic LWP',y:3910,ly:3910,color:'#800080',w:5}],2300,2533,2559,'lwp-legend');

// ---- Panel 5 ----
g=mk('g',{});


[[dq0Minutes,0],[dq3Minutes,3],[dq4Minutes,4],[dq5Minutes,5],[dq6Minutes,6],[dq10Minutes,10],[dq11Minutes,11]].forEach(pair=>{
  pair[0].forEach(m=>{
    const c=mk('ellipse',{cx:X((m+0.5)/60),cy:Y(4,pair[1]),rx:4.5,ry:5,fill:'#FF8C00'},g);
    
    });});
axes(4,p5Ticks,'MWR Phy Iter DQ Flag','dq');
</script>
</body></html>
